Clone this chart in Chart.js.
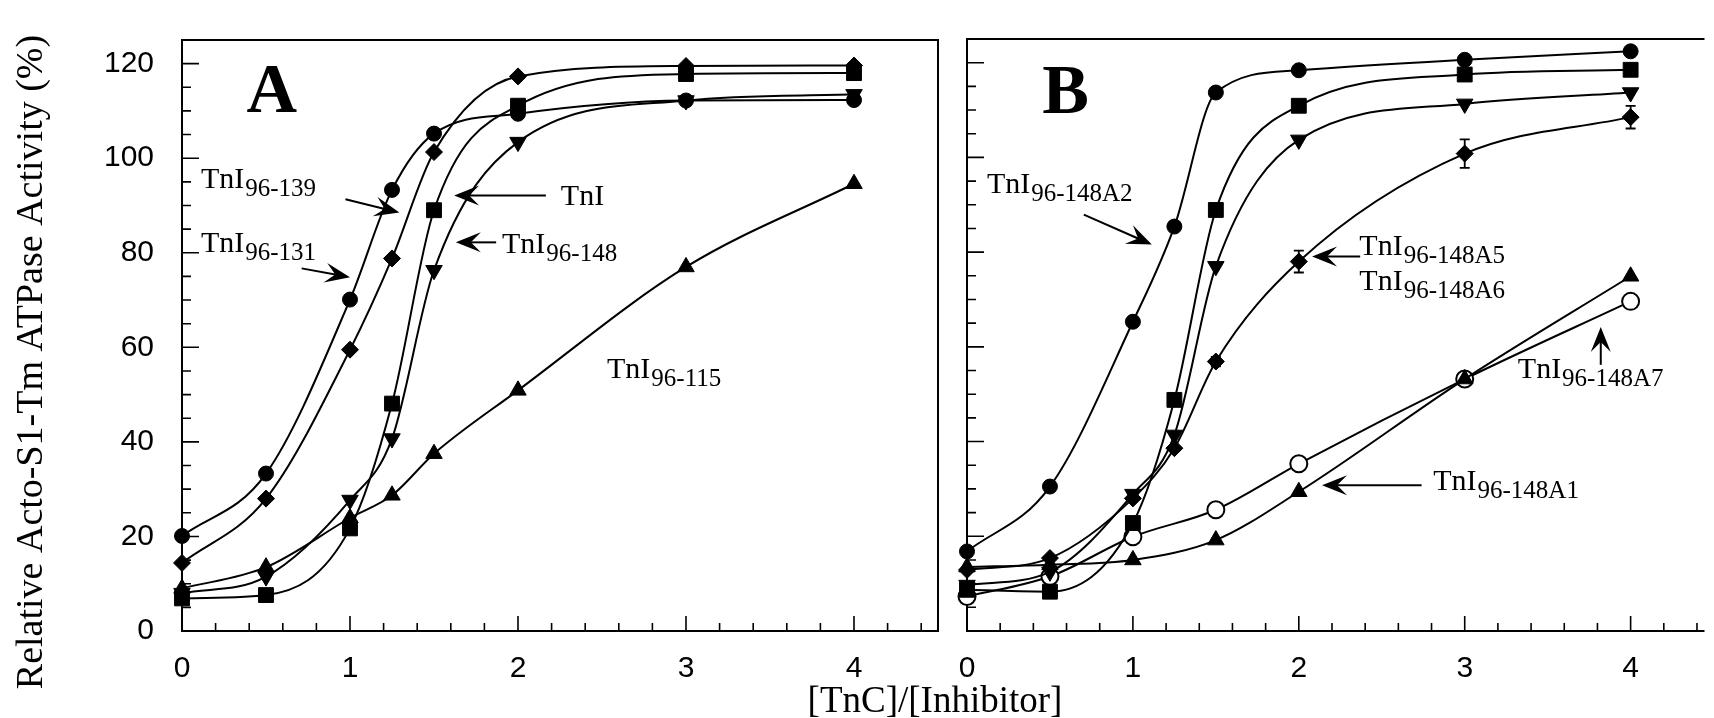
<!DOCTYPE html>
<html><head><meta charset="utf-8">
<script src="https://cdn.jsdelivr.net/npm/chart.js@4.4.0/dist/chart.umd.min.js"></script>
<style>
html,body{margin:0;padding:0;background:#fff;overflow:hidden;width:1714px;height:718px}
canvas{position:absolute;left:0;top:0}
</style></head><body>
<canvas id="cA" width="1714" height="718"></canvas>
<canvas id="cB" width="1714" height="718"></canvas>
<script>
// ---------- data ----------
const ratioX = [0, 0.5, 1, 1.25, 1.5, 2, 3, 4];   // [TnC]/[Inhibitor]
const xTickLabels = [0, 1, 2, 3, 4];
const yTickLabels = [0, 20, 40, 60, 80, 100, 120];

// Panel A (relative activity, %)
const a_TnI96_131 = [20.1, 33.3, 70.1, 93.3, 105.2, 109.4, 112.2, 112.3];  // filled circles
const a_TnI96_139 = [14.4, 28.0, 59.5, 78.8, 101.3, 117.3, 119.5, 119.6];  // filled diamonds
const a_TnI       = [6.9, 7.6, 21.7, 48.1, 89.0, 111.1, 117.8, 118.0];     // filled squares
const a_TnI96_148 = [8.0, 11.5, 27.7, 40.7, 76.3, 103.4, 112.2, 113.5];    // down triangles
const a_TnI96_115 = [9.0, 13.5, 23.9, 28.7, 37.5, 50.9, 77.0, 94.6];       // up triangles

// Panel B
const b_A2        = [16.8, 30.5, 65.3, 85.4, 113.7, 118.4, 120.6, 122.4];  // filled circles
const b_TnI       = [8.7, 8.3, 22.8, 48.8, 88.9, 110.9, 117.5, 118.5];     // filled squares
const b_TnI96_148 = [9.7, 12.5, 28.9, 41.4, 77.0, 103.7, 111.3, 113.7];    // down triangles
const b_A5A6      = [12.9, 15.4, 28.0, 38.6, 56.9, 78.0, 100.8, 108.5];    // diamonds
const b_A5A6_err  = [0, 0, 0, 0, 1.0, 2.3, 3.0, 2.4];
const b_A1        = [13.5, 14.0, 15.0, null, 19.2, 29.4, 53.2, 74.9];      // up triangles
const b_A7        = [7.3, 11.5, 19.9, null, 25.6, 35.3, 53.2, 69.6];       // open circles

// annotations (data units)
const letterA = {text: 'A', x: 0.535, y: 109.7};
const letterB = {text: 'B', x: 0.594, y: 109.4};
const labelsA = [
  {main: 'TnI', sub: '96-139', x: 0.113, y: 93.6},
  {main: 'TnI', sub: '96-131', x: 0.113, y: 80.1},
  {main: 'TnI', sub: '',       x: 2.255, y: 90.0},
  {main: 'TnI', sub: '96-148', x: 1.905, y: 79.9},
  {main: 'TnI', sub: '96-115', x: 2.53,  y: 53.5}
];
const arrowsA = [
  {from: [0.973, 91.3], to: [1.294, 88.5]},
  {from: [0.712, 76.7], to: [1.0, 74.8]},
  {from: [2.166, 92.1], to: [1.62, 92.1]},
  {from: [1.87, 82.2],  to: [1.63, 82.2]}
];
const labelsB = [
  {main: 'TnI', sub: '96-148A2', x: 0.12,  y: 92.5},
  {main: 'TnI', sub: '96-148A5', x: 2.365, y: 79.4},
  {main: 'TnI', sub: '96-148A6', x: 2.365, y: 72.0},
  {main: 'TnI', sub: '96-148A7', x: 3.32,  y: 53.4},
  {main: 'TnI', sub: '96-148A1', x: 2.81,  y: 29.8}
];
const arrowsB = [
  {from: [0.704, 87.9], to: [1.114, 81.6]},
  {from: [2.37, 79.1],  to: [2.08, 79.1]},
  {from: [3.82, 56.2],  to: [3.82, 64.2]},
  {from: [2.74, 30.8],  to: [2.14, 30.8]}
];
const yTitle = 'Relative Acto-S1-Tm ATPase Activity (%)';
const xTitle = '[TnC]/[Inhibitor]';

// ---------- helpers ----------
const SERIF = '"Liberation Serif", "Times New Roman", serif';
const SANS = '"Liberation Sans", Arial, sans-serif';
function pts(ys) { return ratioX.map((x, i) => ({x, y: ys[i]})).filter(p => p.y !== null); }
const SH = {
  circle: {style: 'circle', r: 7.5},
  open:   {style: 'circle', r: 8.5, open: true},
  square: {style: 'rect', r: 10.5},
  diamond:{style: 'rectRot', r: 8.5},
  up:     {style: 'triangle', r: 9.5},
  down:   {style: 'triangle', r: 9.5, rot: 180}
};
function ds(label, ys, sh) {
  return {
    label, data: pts(ys), borderColor: '#000', borderWidth: 2,
    pointStyle: sh.style, pointRotation: sh.rot || 0, pointRadius: sh.r, pointHoverRadius: sh.r,
    pointBackgroundColor: sh.open ? '#fff' : '#000', pointBorderColor: '#000',
    pointBorderWidth: sh.open ? 2 : 1,
    cubicInterpolationMode: 'monotone', fill: false, spanGaps: true, clip: false
  };
}
function drawArrow(ctx, x1, y1, x2, y2) {
  const a = Math.atan2(y2 - y1, x2 - x1), c = Math.cos(a), s = Math.sin(a);
  const L = 25, W = 10, N = 15;
  ctx.beginPath(); ctx.moveTo(x1, y1); ctx.lineTo(x2 - c * N, y2 - s * N); ctx.stroke();
  ctx.beginPath();
  ctx.moveTo(x2, y2);
  ctx.lineTo(x2 - c * L - s * W, y2 - s * L + c * W);
  ctx.lineTo(x2 - c * N, y2 - s * N);
  ctx.lineTo(x2 - c * L + s * W, y2 - s * L - c * W);
  ctx.closePath(); ctx.fill();
}
function makeDeco(opts) {
  return {
    id: 'deco',
    beforeDatasetsDraw(chart) {
      const ctx = chart.ctx, xs = chart.scales.x, ys = chart.scales.y, ca = chart.chartArea;
      ctx.save();
      ctx.strokeStyle = '#000'; ctx.lineWidth = 2; ctx.lineCap = 'butt';
      // frame
      ctx.beginPath();
      if (opts.rightEdge) {
        ctx.rect(ca.left, ca.top, ca.right - ca.left, ca.bottom - ca.top);
      } else {
        ctx.moveTo(ca.right + 2, ca.top); ctx.lineTo(ca.left, ca.top);
        ctx.lineTo(ca.left, ca.bottom); ctx.lineTo(ca.right + 2, ca.bottom);
      }
      ctx.stroke();
      // inward ticks
      ctx.lineWidth = 1.6;
      ctx.beginPath();
      for (let v = 0; v <= ys.max + 1e-9; v += 5) {
        const y = ys.getPixelForValue(v);
        const len = yTickLabels.includes(Math.round(v)) ? 17 : 9;
        ctx.moveTo(ca.left, y); ctx.lineTo(ca.left + len, y);
      }
      for (let i = 0; i * 0.2 <= xs.max + 1e-9; i++) {
        const v = i * 0.2, x = xs.getPixelForValue(v);
        const len = (i % 5 === 0) ? 15 : 8;
        ctx.moveTo(x, ca.bottom); ctx.lineTo(x, ca.bottom - len);
      }
      ctx.stroke();
      ctx.restore();
    },
    afterDatasetsDraw(chart) {
      const ctx = chart.ctx, xs = chart.scales.x, ys = chart.scales.y;
      const px = v => xs.getPixelForValue(v), py = v => ys.getPixelForValue(v);
      ctx.save();
      ctx.fillStyle = '#000'; ctx.strokeStyle = '#000';
      // error bars
      if (opts.err) {
        ctx.lineWidth = 1.8;
        opts.err.vals.forEach((v, i) => {
          const e = opts.err.err[i];
          if (!e || v === null) return;
          const x = px(ratioX[i]), y1 = py(v - e), y2 = py(v + e);
          ctx.beginPath();
          ctx.moveTo(x, y1); ctx.lineTo(x, y2);
          ctx.moveTo(x - 5, y1); ctx.lineTo(x + 5, y1);
          ctx.moveTo(x - 5, y2); ctx.lineTo(x + 5, y2);
          ctx.stroke();
        });
      }
      // panel letter
      ctx.font = 'bold 70px ' + SERIF;
      ctx.textAlign = 'center'; ctx.textBaseline = 'alphabetic';
      ctx.fillText(opts.letter.text, px(opts.letter.x), py(opts.letter.y));
      // labels
      ctx.textAlign = 'left';
      opts.labels.forEach(l => {
        const x = px(l.x), y = py(l.y);
        ctx.font = '30px ' + SERIF;
        ctx.fillText(l.main, x, y);
        const w = ctx.measureText(l.main).width;
        if (l.sub) { ctx.font = '25px ' + SERIF; ctx.fillText(l.sub, x + w + 1, y + 8); }
      });
      // arrows
      ctx.lineWidth = 2;
      opts.arrows.forEach(a => drawArrow(ctx, px(a.from[0]), py(a.from[1]), px(a.to[0]), py(a.to[1])));
      ctx.restore();
    },
    afterDraw(chart) {
      const ctx = chart.ctx;
      ctx.save(); ctx.fillStyle = '#000';
      if (opts.yTitle) {
        ctx.translate(42, 362); ctx.rotate(-Math.PI / 2);
        ctx.font = '38px ' + SERIF; ctx.textAlign = 'center'; ctx.textBaseline = 'alphabetic';
        ctx.fillText(opts.yTitle, 0, 0);
      }
      if (opts.xTitle) {
        ctx.font = '37px ' + SERIF; ctx.textAlign = 'center'; ctx.textBaseline = 'alphabetic';
        ctx.fillText(opts.xTitle, 935, 712);
      }
      ctx.restore();
    }
  };
}
function scales(xMax, showY, yWidth) {
  return {
    x: {
      type: 'linear', min: 0, max: xMax,
      afterBuildTicks: s => { s.ticks = xTickLabels.map(v => ({value: v})); },
      afterFit: s => { s.height = 87; },
      ticks: {autoSkip: false, maxRotation: 0, padding: 12, color: '#000', font: {family: SANS, size: 30}},
      grid: {display: false}, border: {display: false}
    },
    y: {
      type: 'linear', min: 0, max: 125,
      afterBuildTicks: s => { s.ticks = yTickLabels.map(v => ({value: v})); },
      afterFit: s => { s.width = yWidth; },
      ticks: {display: showY, autoSkip: false, padding: 20, color: '#000', font: {family: SANS, size: 30}},
      grid: {display: false}, border: {display: false}
    }
  };
}
const common = {
  responsive: false, animation: false, devicePixelRatio: 1,
  plugins: {legend: {display: false}, tooltip: {enabled: false}},
  events: []
};

new Chart(document.getElementById('cA'), {
  type: 'line',
  data: {datasets: [
    ds('TnI96-131', a_TnI96_131, SH.circle),
    ds('TnI96-139', a_TnI96_139, SH.diamond),
    ds('TnI', a_TnI, SH.square),
    ds('TnI96-148', a_TnI96_148, SH.down),
    ds('TnI96-115', a_TnI96_115, SH.up)
  ]},
  options: Object.assign({}, common, {
    layout: {padding: {left: 0, top: 40, right: 1714 - 938, bottom: 0}},
    scales: scales(4.5, true, 182)
  }),
  plugins: [makeDeco({rightEdge: true, letter: letterA, labels: labelsA, arrows: arrowsA, yTitle: yTitle})]
});

new Chart(document.getElementById('cB'), {
  type: 'line',
  data: {datasets: [
    ds('TnI96-148A2', b_A2, SH.circle),
    ds('TnI', b_TnI, SH.square),
    ds('TnI96-148', b_TnI96_148, SH.down),
    ds('TnI96-148A5/A6', b_A5A6, SH.diamond),
    ds('TnI96-148A1', b_A1, SH.up),
    ds('TnI96-148A7', b_A7, SH.open)
  ]},
  options: Object.assign({}, common, {
    layout: {padding: {left: 900, top: 39, right: 0, bottom: 0}},
    scales: scales((1714 - 967) / 168.5, false, 67)
  }),
  plugins: [makeDeco({rightEdge: false, letter: letterB, labels: labelsB, arrows: arrowsB, xTitle: xTitle,
                      err: {vals: b_A5A6, err: b_A5A6_err}})]
});
</script>
</body></html>
